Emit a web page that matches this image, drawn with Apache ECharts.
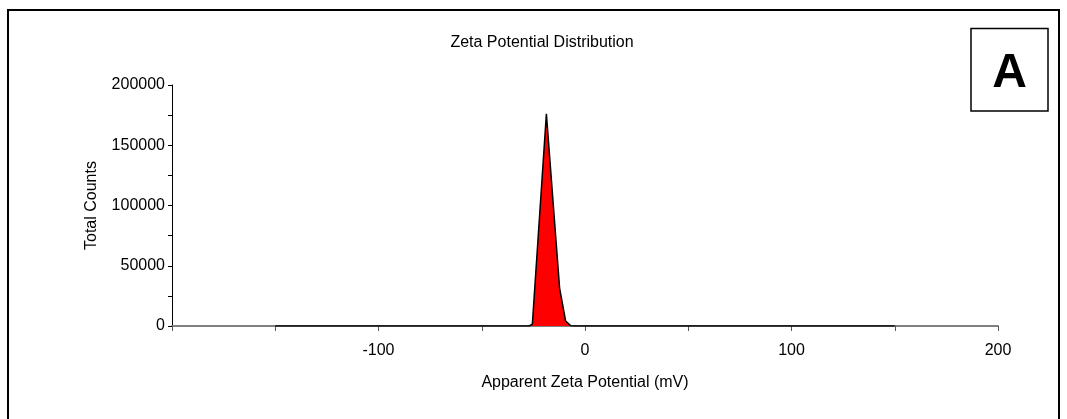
<!DOCTYPE html>
<html>
<head>
<meta charset="utf-8">
<script src="https://cdn.jsdelivr.net/npm/echarts@6/dist/echarts.min.js"></script>
<style>
  html, body { margin: 0; padding: 0; background: #fff; }
  #chart { width: 1067px; height: 419px; }
</style>
</head>
<body>
<div id="chart"></div>
<script>
// Apparent zeta potential (mV) and total counts along the distribution
const zetaMv = [-150, -27, -25.5, -18.7, -12.3, -9.4, -7, -5, 150];
const totalCounts = [0, 0, 1500, 176000, 31500, 4200, 300, 0, 0];

const xTickMin = -200, xTickMax = 200, xTickStep = 50;
const yTickMin = 0, yTickMax = 200000, yTickStep = 50000;

const FONT = '"Liberation Sans", Arial, sans-serif';
const series = zetaMv.map((v, i) => [v, totalCounts[i]]);

const chart = echarts.init(document.getElementById('chart'), null, { renderer: 'canvas' });
chart.setOption({
  animation: false,
  backgroundColor: '#ffffff',
  textStyle: { fontFamily: FONT },
  title: {
    text: 'Zeta Potential Distribution',
    left: 537, top: 30, textAlign: 'center',
    textStyle: { fontFamily: FONT, fontSize: 16, fontWeight: 'normal', color: '#000' }
  },
  grid: { left: 172, right: 69, top: 85, bottom: 93 },
  xAxis: {
    type: 'value',
    min: xTickMin, max: xTickMax, interval: xTickStep,
    name: 'Apparent Zeta Potential (mV)',
    nameLocation: 'middle', nameGap: 49,
    nameTextStyle: { fontFamily: FONT, fontSize: 16, color: '#000' },
    axisLine: { lineStyle: { color: '#808080', width: 2 } },
    axisTick: { length: 5, lineStyle: { color: '#555', width: 1 } },
    axisLabel: {
      margin: 17, fontFamily: FONT, fontSize: 16, color: '#000',
      formatter: v => (v % 100 === 0 && v !== xTickMin) ? String(v) : ''
    },
    splitLine: { show: false }
  },
  yAxis: {
    type: 'value',
    min: yTickMin, max: yTickMax, interval: yTickStep,
    name: 'Total Counts',
    nameLocation: 'middle', nameGap: 72, nameRotate: 90,
    nameTextStyle: { fontFamily: FONT, fontSize: 16, color: '#000' },
    axisLine: { show: true, onZero: false, lineStyle: { color: '#000', width: 1 } },
    axisTick: { show: true, length: 4, lineStyle: { color: '#000' } },
    minorTick: { show: true, splitNumber: 2, length: 4, lineStyle: { color: '#000' } },
    axisLabel: { margin: 7, fontFamily: FONT, fontSize: 16, color: '#000', formatter: v => String(v) },
    splitLine: { show: false }
  },
  series: [{
    type: 'line',
    data: series,
    showSymbol: false,
    lineStyle: { color: '#000', width: 1.5 },
    areaStyle: { color: '#ff0000', opacity: 1 },
    z: 3
  }],
  graphic: [
    {
      type: 'rect',
      shape: { x: 8, y: 10, width: 1051, height: 430 },
      style: { fill: 'none', stroke: '#000', lineWidth: 2 },
      silent: true
    },
    {
      type: 'rect',
      shape: { x: 971, y: 28.5, width: 77, height: 82.5 },
      style: { fill: '#fff', stroke: '#000', lineWidth: 1.5 },
      silent: true
    },
    {
      type: 'text',
      x: 1009.5, y: 74,
      style: {
        text: 'A', fontFamily: FONT, fontSize: 48, fontWeight: 'bold',
        fill: '#000', align: 'center', verticalAlign: 'middle'
      },
      silent: true
    }
  ]
});
</script>
</body>
</html>
